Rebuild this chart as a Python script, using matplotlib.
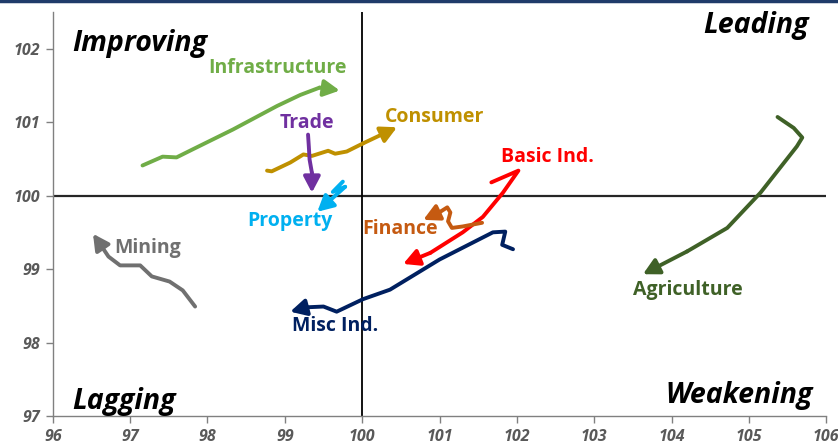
import matplotlib
matplotlib.use("Agg")
import matplotlib.pyplot as plt
from matplotlib.lines import Line2D

# sector trails (RS-ratio, RS-momentum); last point is the arrow tip
names = ["Infrastructure", "Consumer", "Trade", "Property", "Basic Ind.",
         "Finance", "Misc Ind.", "Mining", "Agriculture"]

infra_x = [97.16, 97.42, 97.6, 97.81, 98.33, 98.9, 99.2, 99.45, 99.71]
infra_y = [100.41, 100.53, 100.52, 100.63, 100.9, 101.22, 101.37, 101.47, 101.43]

cons_x = [98.77, 98.83, 99.07, 99.24, 99.35, 99.56, 99.65, 99.8, 100.01, 100.45]
cons_y = [100.34, 100.33, 100.45, 100.56, 100.54, 100.61, 100.57, 100.6, 100.71, 100.93]

trade_x = [99.3, 99.31, 99.32, 99.35, 99.35]
trade_y = [100.83, 100.67, 100.49, 100.31, 100.04]

prop_x = [99.75, 99.62, 99.78, 99.42]
prop_y = [100.19, 100.05, 100.12, 99.78]

basic_x = [101.67, 102.02, 101.82, 101.56, 101.3, 100.88, 100.53]
basic_y = [100.18, 100.34, 100.04, 99.71, 99.5, 99.22, 99.07]

fin_x = [101.55, 101.3, 101.16, 101.11, 101.14, 101.1, 101.01, 100.79]
fin_y = [99.63, 99.58, 99.56, 99.65, 99.77, 99.84, 99.78, 99.67]

misc_x = [101.95, 101.81, 101.85, 101.69, 101.0, 100.36, 100.01, 99.67, 99.5, 99.29, 99.07]
misc_y = [99.27, 99.33, 99.51, 99.5, 99.13, 98.72, 98.59, 98.42, 98.49, 98.48, 98.42]

mining_x = [97.84, 97.68, 97.51, 97.28, 97.13, 96.87, 96.72, 96.65, 96.52]
mining_y = [98.49, 98.71, 98.83, 98.9, 99.05, 99.05, 99.17, 99.28, 99.48]

agri_x = [105.37, 105.58, 105.69, 105.62, 105.15, 104.72, 104.2, 103.63]
agri_y = [101.07, 100.92, 100.79, 100.67, 100.04, 99.56, 99.24, 98.93]

trails_x = [infra_x, cons_x, trade_x, prop_x, basic_x, fin_x, misc_x, mining_x, agri_x]
trails_y = [infra_y, cons_y, trade_y, prop_y, basic_y, fin_y, misc_y, mining_y, agri_y]
colors = ["#70AD47", "#BF9000", "#7030A0", "#00B0F0", "#FF0000",
          "#C55A11", "#002060", "#707070", "#3F6127"]

label_x = [98.91, 100.94, 99.29, 99.07, 102.4, 100.49, 99.65, 97.23, 104.21]
label_y = [101.74, 101.07, 100.99, 99.65, 100.52, 99.55, 98.23, 99.29, 98.71]

quadrants = ["Improving", "Leading", "Lagging", "Weakening"]

xticks = [96, 97, 98, 99, 100, 101, 102, 103, 104, 105, 106]
yticks = [97, 98, 99, 100, 101, 102]

font = "Open Sans"

fig = plt.figure(figsize=(8.38, 4.48), dpi=100)
ax = fig.add_axes([0.063, 0.0714, 0.923, 0.902])
ax.set_xlim(96, 106)
ax.set_ylim(97, 102.5)

# crosshair at 100/100
ax.axhline(100, color="#262626", lw=1.6, zorder=1)
ax.axvline(100, color="black", lw=1.3, zorder=1)

for xs, ys, c, nm, lx, ly in zip(trails_x, trails_y, colors, names, label_x, label_y):
    ax.plot(xs[:-1], ys[:-1], color=c, lw=2.8, solid_capstyle="round",
            solid_joinstyle="round", zorder=3)
    ax.annotate("", xy=(xs[-1], ys[-1]), xytext=(xs[-2], ys[-2]),
                arrowprops=dict(arrowstyle="-|>,head_length=0.95,head_width=0.5",
                                color=c, lw=2.8, shrinkA=0, shrinkB=0),
                zorder=3)
    ax.text(lx, ly, nm, color=c, fontsize=14, fontweight="bold",
            family=font, ha="center", va="center", zorder=4)

qkw = dict(fontsize=20.5, fontweight="bold", style="italic", family=font,
           color="black", va="center")
ax.text(96.25, 102.07, quadrants[0], ha="left", **qkw)
ax.text(105.77, 102.31, quadrants[1], ha="right", **qkw)
ax.text(96.25, 97.2, quadrants[2], ha="left", **qkw)
ax.text(105.82, 97.28, quadrants[3], ha="right", **qkw)

ax.set_xticks(xticks)
ax.set_yticks(yticks)
for lab in ax.get_xticklabels() + ax.get_yticklabels():
    lab.set_family(font)
    lab.set_fontweight("bold")
    lab.set_style("italic")
    lab.set_fontsize(11.5)
    lab.set_color("#595959")
ax.tick_params(direction="out", length=5, width=1, color="#808080", pad=4)

for s in ["top", "right"]:
    ax.spines[s].set_visible(False)
for s in ["left", "bottom"]:
    ax.spines[s].set_color("#808080")
    ax.spines[s].set_linewidth(1)

# thin banner line along the top edge
fig.add_artist(Line2D([0, 1], [0.997, 0.997], transform=fig.transFigure,
                      color="#1F3B6A", lw=2.5))

fig.savefig("out.png", dpi=100)
